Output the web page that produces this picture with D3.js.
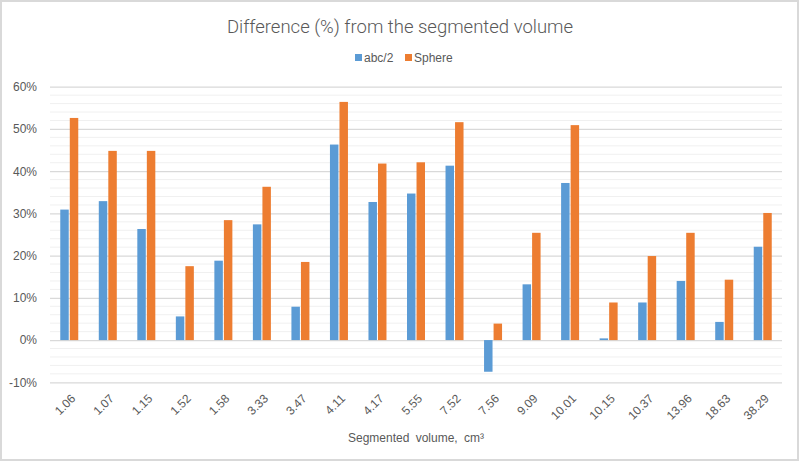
<!DOCTYPE html>
<html>
<head>
<meta charset="utf-8">
<script src="https://cdn.jsdelivr.net/npm/d3@7"></script>
<style>
  body { margin: 0; background: #fff; }
  svg text { font-family: "Liberation Sans", Arial, sans-serif; fill: #595959; }
</style>
</head>
<body>
<div id="chart"></div>
<script>
// values, percent
var volumes = ["1.06", "1.07", "1.15", "1.52", "1.58", "3.33", "3.47", "4.11", "4.17", "5.55",
               "7.52", "7.56", "9.09", "10.01", "10.15", "10.37", "13.96", "18.63", "38.29"];
var abc2 = [30.9, 32.9, 26.3, 5.6, 18.8, 27.4, 7.9, 46.3, 32.7, 34.7,
            41.3, -7.5, 13.2, 37.2, 0.4, 8.9, 14.0, 4.3, 22.1];
var sphere = [52.6, 44.8, 44.8, 17.5, 28.4, 36.3, 18.5, 56.4, 41.8, 42.1,
              51.6, 3.9, 25.4, 50.9, 8.9, 19.9, 25.4, 14.3, 30.1];
var seriesNames = ["abc/2", "Sphere"];
var colors = ["#5b9bd5", "#ed7d31"];
var yTicks = [-10, 0, 10, 20, 30, 40, 50, 60];

var width = 800, height = 464;
var svg = d3.select("#chart").append("svg")
    .attr("width", width)
    .attr("height", height);

// outer frame
svg.append("rect")
    .attr("x", 1).attr("y", 1)
    .attr("width", 797).attr("height", 459)
    .style("fill", "#fff")
    .style("stroke", "#d9d9d9")
    .style("stroke-width", 2);

// plot area (window.top is reserved, so no "top" here)
var plotL = 50, plotR = 782, plotT = 86.7, plotB = 382.3;

var x0 = d3.scaleBand().domain(volumes).range([plotL, plotR]);
var bw = x0.bandwidth();
var x1 = d3.scaleBand().domain(seriesNames)
    .range([bw / 2 - 9, bw / 2 + 9])
    .paddingInner(0.11);
var y = d3.scaleLinear().domain([-10, 60]).range([plotB, plotT]);

// minor gridlines every 2%
svg.append("g").selectAll("line")
    .data(d3.range(-10, 61, 2).filter(function(v) { return v % 10 !== 0; }))
  .enter().append("line")
    .attr("x1", plotL).attr("x2", plotR)
    .attr("y1", function(d) { return y(d); })
    .attr("y2", function(d) { return y(d); })
    .style("stroke", "#f0f0f0")
    .style("stroke-width", 1);

// major gridlines
var yAxis = d3.axisLeft(y).tickValues(yTicks)
    .tickSize(-(plotR - plotL))
    .tickFormat(function(d) { return d + "%"; });
var gy = svg.append("g")
    .attr("transform", "translate(" + plotL + ",0)")
    .call(yAxis);
gy.select(".domain").remove();
gy.selectAll(".tick line").style("stroke", "#d9d9d9").style("stroke-width", 1.3);
gy.selectAll(".tick text")
    .attr("x", -13)
    .style("font-size", "12px")
    .style("fill", "#595959");

// bars
var rows = volumes.map(function(v, i) {
  return { vol: v, vals: [abc2[i], sphere[i]] };
});
var groups = svg.append("g").selectAll("g.grp")
    .data(rows)
  .enter().append("g")
    .attr("class", "grp")
    .attr("transform", function(d) { return "translate(" + x0(d.vol) + ",0)"; });
groups.selectAll("rect")
    .data(function(d) { return d.vals.map(function(v, k) { return { name: seriesNames[k], v: v, k: k }; }); })
  .enter().append("rect")
    .attr("x", function(d) { return x1(d.name); })
    .attr("width", x1.bandwidth())
    .attr("y", function(d) { return y(Math.max(0, d.v)); })
    .attr("height", function(d) { return Math.abs(y(d.v) - y(0)); })
    .style("fill", function(d) { return colors[d.k]; });

// x labels, rotated
var xAxis = d3.axisBottom(x0).tickSize(0).tickPadding(0);
var gx = svg.append("g")
    .attr("transform", "translate(0," + plotB + ")")
    .call(xAxis);
gx.select(".domain").remove();
gx.selectAll(".tick text")
    .attr("transform", "translate(4,14) rotate(-45)")
    .attr("dy", "0.35em")
    .attr("y", 0)
    .style("text-anchor", "end")
    .style("font-size", "12px")
    .style("fill", "#595959");

// axis title
svg.append("text")
    .attr("x", (plotL + plotR) / 2)
    .attr("y", 442)
    .attr("text-anchor", "middle")
    .style("font-size", "12px")
    .style("word-spacing", "3px")
    .text("Segmented volume, cm³");

// chart title
svg.append("text")
    .attr("x", 400)
    .attr("y", 33)
    .attr("text-anchor", "middle")
    .style("font-family", "Roboto, sans-serif")
    .style("font-weight", 300)
    .style("font-size", "18.5px")
    .text("Difference (%) from the segmented volume");

// legend
var legend = svg.append("g").attr("transform", "translate(355,58)");
var items = legend.selectAll("g")
    .data(seriesNames)
  .enter().append("g")
    .attr("transform", function(d, i) { return "translate(" + (i * 50) + ",0)"; });
items.append("rect")
    .attr("x", 0).attr("y", -4)
    .attr("width", 7).attr("height", 7)
    .style("fill", function(d, i) { return colors[i]; });
items.append("text")
    .attr("x", 9).attr("y", 0)
    .attr("dy", "0.35em")
    .style("font-size", "12px")
    .text(function(d) { return d; });
</script>
</body>
</html>
